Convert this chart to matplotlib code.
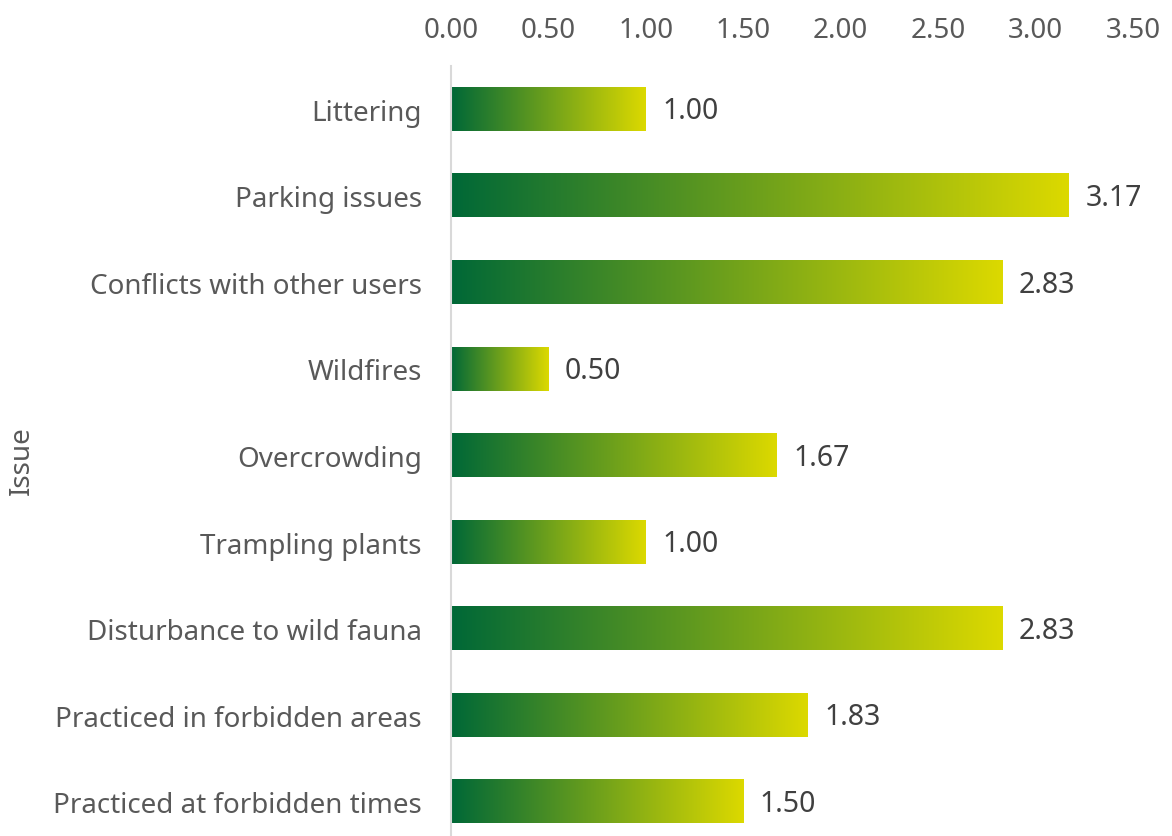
import matplotlib
matplotlib.use('Agg')
from matplotlib import pyplot as plt
from matplotlib.colors import LinearSegmentedColormap
import numpy as np

# Data (top to bottom)
issues = ['Littering', 'Parking issues', 'Conflicts with other users', 'Wildfires',
          'Overcrowding', 'Trampling plants', 'Disturbance to wild fauna',
          'Practiced in forbidden areas', 'Practiced at forbidden times']
scores = [1.00, 3.17, 2.83, 0.50, 1.67, 1.00, 2.83, 1.83, 1.50]
x_ticks = [0.0, 0.5, 1.0, 1.5, 2.0, 2.5, 3.0, 3.5]

plt.rcParams['font.family'] = ['Noto Sans', 'DejaVu Sans']

fig = plt.figure(figsize=(11.72, 8.37), dpi=100)
ax = fig.add_axes([0.3848, -0.0108, 0.5819, 0.9308])

green_yellow = LinearSegmentedColormap.from_list('gy', ['#006837', '#dcd900'])
gradient = np.linspace(0, 1, 256).reshape(1, -1)

bar_h = 0.5
for i, (name, val) in enumerate(zip(issues, scores)):
  # each bar has its own left-to-right gradient
  ax.imshow(gradient, cmap=green_yellow, aspect='auto', interpolation='bilinear',
            extent=(0, val, i + bar_h / 2, i - bar_h / 2), zorder=2)
  ax.text(val + 0.085, i + 0.02, '%.2f' % val, va='center', ha='left',
          fontsize=20.5, color='#404040')

ax.set_xlim(0, 3.5)
ax.set_ylim(len(issues) - 0.5, -0.5)
ax.set_yticks(range(len(issues)))
ax.set_yticklabels(issues, fontsize=20, color='#595959')
ax.set_xticks(x_ticks)
ax.set_xticklabels(['%.2f' % t for t in x_ticks], fontsize=20, color='#595959')
ax.xaxis.tick_top()
ax.tick_params(axis='both', length=0)
ax.tick_params(axis='x', pad=16)
ax.tick_params(axis='y', pad=21)

for side in ['top', 'right', 'bottom']:
  ax.spines[side].set_visible(False)
ax.spines['left'].set_color('#d9d9d9')
ax.spines['left'].set_linewidth(1.5)

fig.text(0.019, 0.45, 'Issue', rotation=90, va='center', ha='center',
         fontsize=20, color='#595959')

plt.savefig('out.png', dpi=100)
